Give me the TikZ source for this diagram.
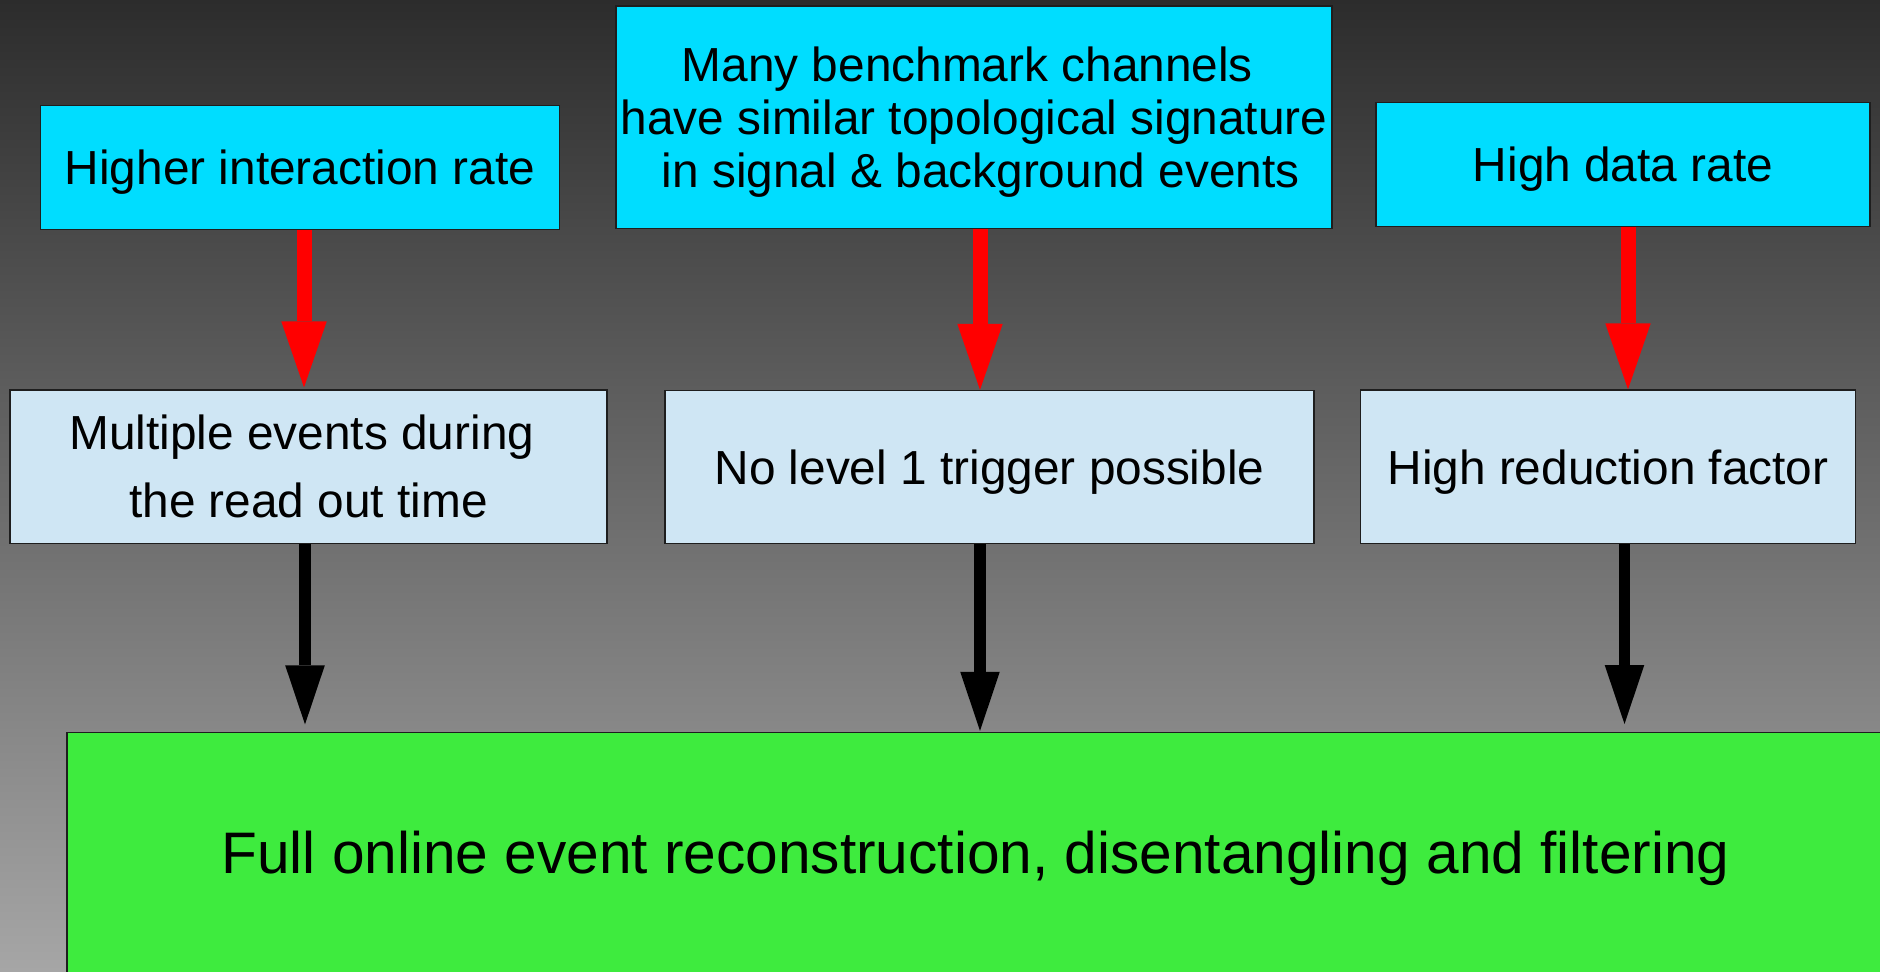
\documentclass[tikz,border=0pt]{standalone}
\usepackage{fontspec}
\setmainfont{Liberation Sans}
\usetikzlibrary{arrows.meta}

\definecolor{bgtop}{RGB}{44,44,44}
\definecolor{bgbot}{RGB}{166,166,166}
\definecolor{causefill}{RGB}{0,221,255}
\definecolor{effectfill}{RGB}{207,230,244}
\definecolor{resultfill}{RGB}{62,235,62}
\definecolor{edgegray}{RGB}{30,30,30}

\begin{document}
\begin{tikzpicture}[x=0.5pt,y=-0.5pt,
  box/.style={draw=edgegray, line width=0.6pt, inner sep=0pt, align=center,
              font=\fontsize{23.9}{26.65}\selectfont},
  cause/.style={box, fill=causefill},
  effect/.style={box, fill=effectfill},
  oneline/.style={text height=17.2pt, text depth=0pt},
  redarrow/.style={draw=red, line width=7.5pt,
    -{Triangle[length=33pt, width=22.7pt, line width=0pt]}},
  blackarrow/.style={draw=black, line width=5.6pt,
    -{Triangle[length=29.5pt, width=19.8pt, line width=0pt]}},
]
\useasboundingbox (0,0) rectangle (1880,971);
\clip (0,0) rectangle (1880,971);

% background gradient
\shade[top color=bgtop, bottom color=bgbot] (0,0) rectangle (1880,971);

% top row: causes
\node[cause, oneline, minimum width=259.2pt, minimum height=62pt] (hir) at (300,167.7)
  {Higher interaction rate};
\node[cause, minimum width=358pt, minimum height=111.35pt] (mbc) at (974,117.3)
  {Many benchmark channels\hphantom{\ }\\have similar topological signature\\\smash{\hphantom{\ }in signal \& background events}};
\node[cause, oneline, minimum width=247pt, minimum height=62pt] (hdr) at (1623,164.5)
  {High data rate};

% middle row: consequences
\node[effect, minimum width=298.5pt, minimum height=76.65pt,
      font=\fontsize{23.9}{34.15}\selectfont] (mev) at (308.5,466.7)
  {Multiple events during\hphantom{\ }\\the read out time};
\node[effect, oneline, minimum width=324.5pt, minimum height=76.5pt] (nl1) at (989.5,467)
  {No level 1 trigger possible};
\node[effect, oneline, minimum width=247.3pt, minimum height=76.8pt] (hrf) at (1608,466.8)
  {High reduction factor};

% bottom: result
\node[box, fill=resultfill, minimum width=908.5pt, minimum height=119.9pt,
      font=\fontsize{29.3}{34}\selectfont, text height=21.1pt, text depth=0pt]
  (res) at (975.5,852.5)
  {Full online event reconstruction, disentangling and filtering};

% arrow columns
\coordinate (r1) at (304,0);
\coordinate (r2) at (980,0);
\coordinate (r3) at (1628,0);
\coordinate (k1) at (305,0);
\coordinate (k2) at (980,0);
\coordinate (k3) at (1624.5,0);

\draw[redarrow, shorten >=1pt] (hir.south -| r1) -- (mev.north -| r1);
\draw[redarrow] (mbc.south -| r2) -- (nl1.north -| r2);
\draw[redarrow] (hdr.south -| r3) -- (hrf.north -| r3);

\draw[blackarrow, shorten >=3.8pt] (mev.south -| k1) -- (res.north -| k1);
\draw[blackarrow, shorten >=0.6pt] (nl1.south -| k2) -- (res.north -| k2);
\draw[blackarrow, shorten >=4pt] (hrf.south -| k3) -- (res.north -| k3);
\end{tikzpicture}
\end{document}
